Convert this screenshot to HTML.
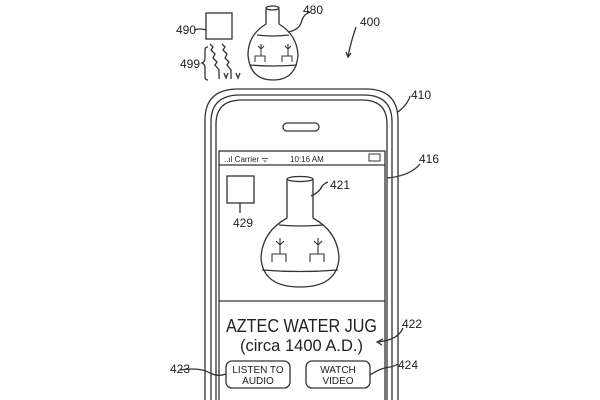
<!DOCTYPE html>
<html><head><style>body{margin:0;background:#fff}svg{display:block}text{font-family:"Liberation Sans",sans-serif;fill:#222}</style></head><body>
<svg width="600" height="400" viewBox="0 0 600 400" xmlns="http://www.w3.org/2000/svg" fill="none" stroke="#333" stroke-width="1.3">
<!-- top figure -->
<rect x="206" y="13" width="26" height="26"/>
<path d="M194 30 Q200 28 206 30"/>
<path d="M210 44 l3 3 -2 3 4 4 -2 4 4 4 -2 3 4 5 v9 M222 44 l3 3 -2 3 4 4 -2 4 4 4 -2 3 4 5 v9"/>
<path d="M228 73 l-2 5 -2 -5 M240 73 l-2 5 -2 -5"/>
<path d="M208 47 q-3 0 -3 3 v8 q0 4 -3 5 q3 1 3 5 v9 q0 3 3 3"/>
<path d="M266 9 L266 24 Q248 35 248 55 Q250 80 273 80 Q296 80 298 55 Q297 35 279 24 L279 9"/>
<ellipse cx="272.5" cy="8" rx="6.5" ry="2"/>
<path d="M257 35 Q272 37 289 35 M250 65 Q272 67 297 65"/>
<path d="M261 44 v8 M258 46 l3 3 3-3 M261 52 v4 h-6 v6 M261 56 h4 v6 M288 44 v8 M285 46 l3 3 3-3 M288 52 v4 h-6 v6 M288 56 h4 v6" stroke-width="1"/>
<path d="M288 32 Q300 30 302 20 Q304 14 310 12"/>
<path d="M356 27 Q350 45 348 57 M346 52 l2 5 3-4"/>
<!-- phone -->
<path d="M205 400 V120 Q205 89 238 89 H366 Q398 89 398 120 V400"/>
<path d="M211 400 V122 Q211 95 240 95 H364 Q392 95 392 122 V400"/>
<path d="M216 400 V124 Q216 100 242 100 H362 Q387 100 387 124 V400"/>
<rect x="283" y="123" width="36" height="8" rx="4"/>
<rect x="219" y="151" width="166" height="260"/>
<line x1="219" y1="165" x2="385" y2="165"/>
<line x1="219" y1="301" x2="385" y2="301"/>
<rect x="369" y="154" width="11" height="7" stroke-width="1"/>
<path d="M398 112 Q408 104 410 96"/>
<path d="M387 178 Q410 176 420 164"/>
<!-- screen jug -->
<rect x="227" y="176" width="27" height="27"/>
<path d="M240 203 v10"/>
<ellipse cx="300" cy="179" rx="13" ry="2.5"/>
<path d="M287 179 V218 Q262 232 261 258 Q263 287 300 287 Q337 287 339 258 Q338 232 313 218 V179"/>
<path d="M279 225 Q300 227 323 225 M262 270 Q300 273 338 270"/>
<path d="M280 238 v10 M276 241 l4 4 4-4 M280 248 v6 h-8 v8 M280 254 h6 v8 M318 238 v10 M314 241 l4 4 4-4 M318 248 v6 h-8 v8 M318 254 h6 v8" stroke-width="1.1"/>
<path d="M311 196 Q320 192 322 186 Q325 183 328 182"/>
<rect x="226" y="361" width="64" height="27" rx="6"/>
<rect x="306" y="361" width="64" height="27" rx="6"/>
<path d="M180 370 Q200 367 210 373 Q218 377 226 374"/>
<path d="M370 375 Q380 368 390 367 Q395 366 398 364"/>
<path d="M403 328 Q398 340 378 342 M383 339 l-6 3 5 3"/>
<g stroke="none">
<text x="360" y="26" font-size="12">400</text>
<text x="303" y="14" font-size="12">480</text>
<text x="176" y="34" font-size="12">490</text>
<text x="180" y="68" font-size="12">499</text>
<text x="411" y="99" font-size="12">410</text>
<text x="419" y="163" font-size="12">416</text>
<text x="330" y="189" font-size="12">421</text>
<text x="233" y="227" font-size="12">429</text>
<text x="402" y="328" font-size="12">422</text>
<text x="170" y="373" font-size="12">423</text>
<text x="398" y="369" font-size="12">424</text>
<text x="224" y="162" font-size="8">..ıl Carrier  ᯤ</text>
<text x="290" y="162" font-size="8">10:16 AM</text>
<text x="226" y="332" font-size="18" textLength="151" lengthAdjust="spacingAndGlyphs">AZTEC WATER JUG</text>
<text x="240" y="351" font-size="17" textLength="123" lengthAdjust="spacingAndGlyphs">(circa 1400 A.D.)</text>
<text x="258" y="373" font-size="10" text-anchor="middle">LISTEN TO</text>
<text x="258" y="384" font-size="10" text-anchor="middle">AUDIO</text>
<text x="338" y="373" font-size="10" text-anchor="middle">WATCH</text>
<text x="338" y="384" font-size="10" text-anchor="middle">VIDEO</text>
</g>
</svg>
</body></html>
